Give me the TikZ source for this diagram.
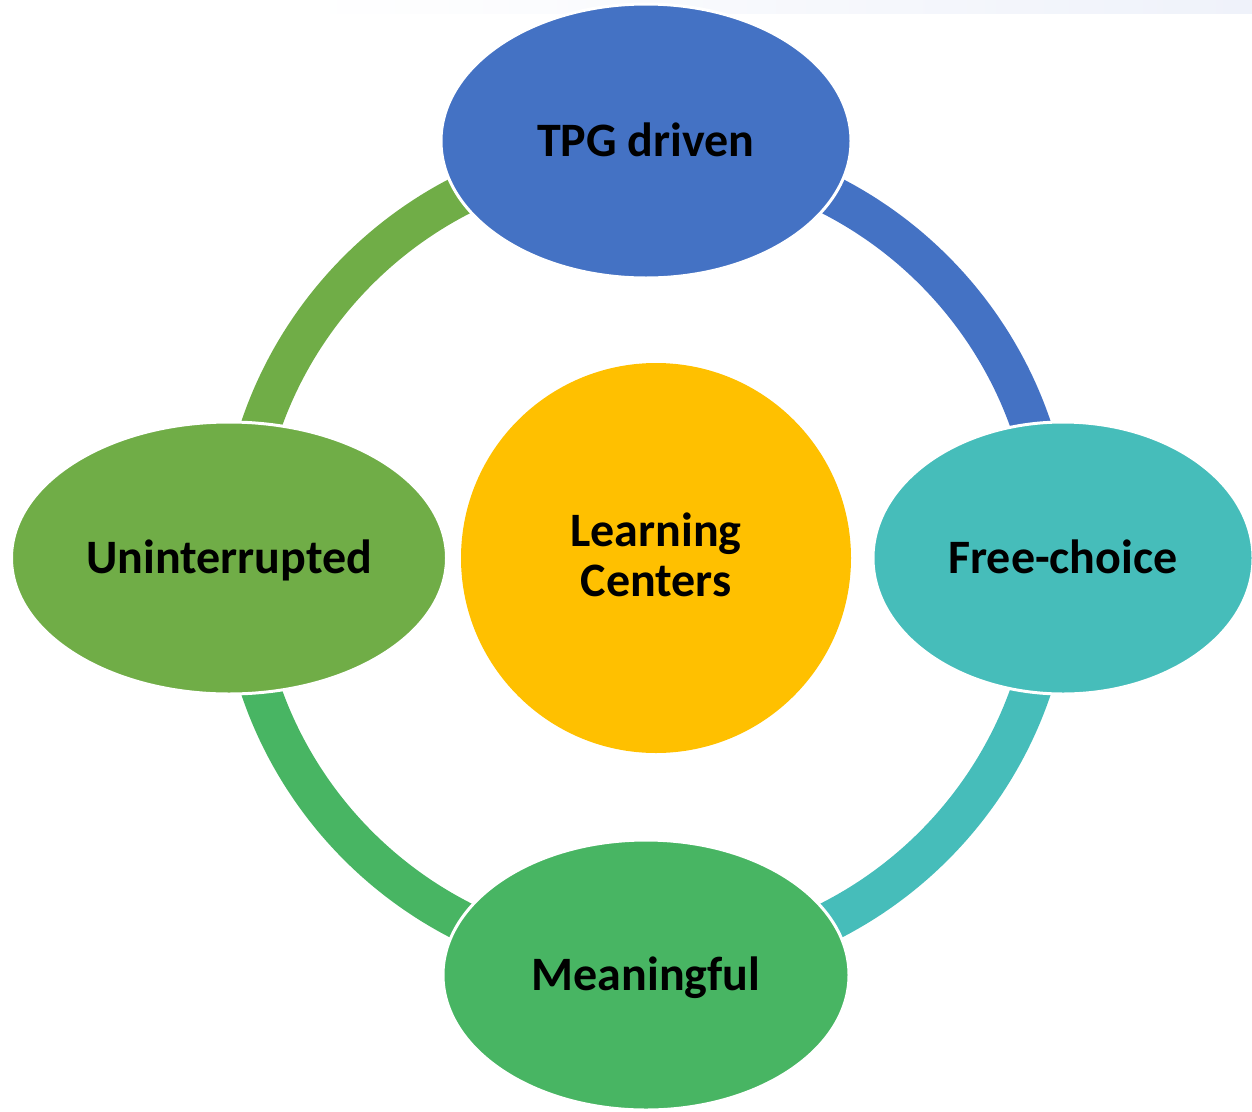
\documentclass[tikz,border=0pt]{standalone}
\usepackage{fontspec}
\setmainfont{Carlito}
\usetikzlibrary{shapes.geometric}
\definecolor{cblue}{HTML}{4472C4}
\definecolor{cteal}{HTML}{46BDBA}
\definecolor{cgreen}{HTML}{48B563}
\definecolor{colive}{HTML}{70AD47}
\definecolor{cyellow}{HTML}{FFC000}
\definecolor{cband}{HTML}{EFF2FA}
\begin{document}
\begin{tikzpicture}[x=1pt,y=-1pt,
  bubble/.style={ellipse, draw=white, line width=3pt, inner sep=0pt},
  lbl/.style={font=\fontsize{48}{50}\selectfont\bfseries, text=black, anchor=base},
  ring/.style={line width=40pt}]
\useasboundingbox (0,0) rectangle (1252,1111);
\shade[left color=white, right color=cband] (300,0) rectangle (1252,13);
\coordinate (C) at (646,558);
% ring arcs
\draw[ring, cblue]  ([shift={(-90:407)}]C) arc[start angle=-90, end angle=0, radius=407];
\draw[ring, cteal]  ([shift={(0:407)}]C) arc[start angle=0, end angle=90, radius=407];
\draw[ring, cgreen] ([shift={(90:407)}]C) arc[start angle=90, end angle=180, radius=407];
\draw[ring, colive] ([shift={(180:407)}]C) arc[start angle=180, end angle=270, radius=407];
% nodes
\node[bubble, fill=cblue, minimum width=410pt, minimum height=274pt] (tpg) at (646,141) {};
\node[bubble, fill=cteal, minimum width=380pt, minimum height=272pt] (free) at (1063,558) {};
\node[bubble, fill=cgreen, minimum width=406pt, minimum height=270pt] (mean) at (646,975) {};
\node[bubble, fill=colive, minimum width=435pt, minimum height=272pt] (unint) at (229,558) {};
\node[circle, fill=cyellow, minimum size=390pt, inner sep=0pt] (lc) at (656,558) {};
% labels
\node[lbl] (tpgt) at (646,156) {TPG driven};
\node[lbl] (freet) at (1063,573) {Free-choice};
\node[lbl] (meant) at (646,990) {Meaningful};
\node[lbl] (unintt) at (229,573) {Uninterrupted};
\node[lbl] (lct1) at (656,546) {Learning};
\node[lbl] (lct2) at (656,596) {Centers};
\end{tikzpicture}
\end{document}
